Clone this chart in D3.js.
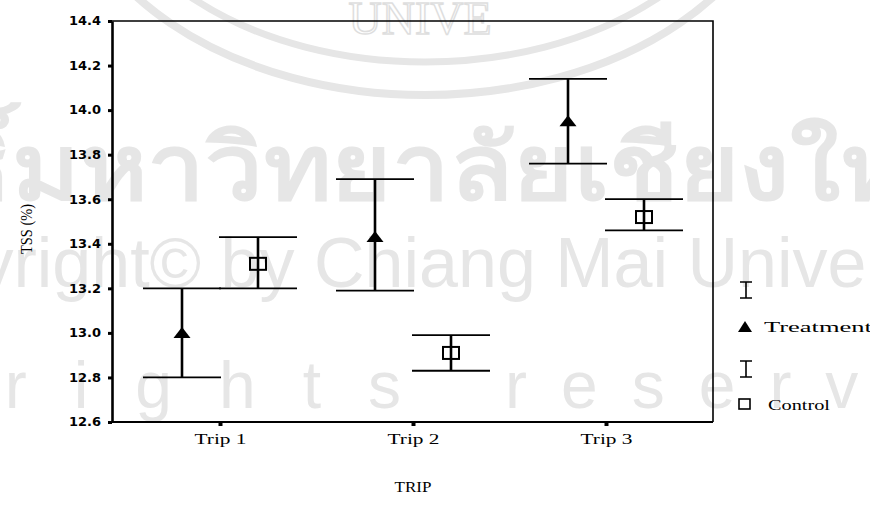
<!DOCTYPE html>
<html>
<head>
<meta charset="utf-8">
<script src="https://cdn.jsdelivr.net/npm/d3@7"></script>
<style>
  html, body { margin: 0; padding: 0; background: #fff; }
  svg { display: block; }
</style>
</head>
<body>
<div id="chart"></div>
<script>
// values (TSS %, mean with error bar limits)
const trips = ["Trip 1", "Trip 2", "Trip 3"];
const treatmentMean = [13.00, 13.43, 13.95];
const treatmentLow  = [12.80, 13.19, 13.76];
const treatmentHigh = [13.20, 13.69, 14.14];
const controlMean = [13.31, 12.91, 13.52];
const controlLow  = [13.20, 12.83, 13.46];
const controlHigh = [13.43, 12.99, 13.60];
const yTicks = [12.6, 12.8, 13.0, 13.2, 13.4, 13.6, 13.8, 14.0, 14.2, 14.4];
const seriesNames = ["Treatment", "Control"];

const width = 870, height = 511;
const frame = { left: 112, right: 713, top: 21, bottom: 422 };
const wmColor = "#e6e6e6";

const svg = d3.select("#chart").append("svg")
  .attr("xmlns", "http://www.w3.org/2000/svg")
  .attr("width", width)
  .attr("height", height);

// faint watermark of the scanned page
const wm = svg.append("g").attr("fill", wmColor);
wm.append("ellipse")
  .attr("cx", 425).attr("cy", -150).attr("rx", 360).attr("ry", 245)
  .attr("fill", "none").attr("stroke", wmColor).attr("stroke-width", 8);
wm.append("ellipse")
  .attr("cx", 425).attr("cy", -150).attr("rx", 325).attr("ry", 212)
  .attr("fill", "none").attr("stroke", wmColor).attr("stroke-width", 7);
wm.append("text")
  .attr("x", 420).attr("y", 34)
  .attr("text-anchor", "middle")
  .attr("font-family", "Liberation Serif, serif")
  .attr("font-size", 46)
  .attr("fill", "none").attr("stroke", "#dedede").attr("stroke-width", 1.5)
  .text("UNIVE");
wm.append("text")
  .attr("x", -315).attr("y", 199)
  .attr("font-family", "Noto Sans, sans-serif")
  .attr("font-weight", "bold")
  .attr("font-size", 90)
  .attr("textLength", 1290)
  .attr("lengthAdjust", "spacingAndGlyphs")
  .text("ลิขสิทธิ์มหาวิทยาลัยเชียงใหม่");
wm.append("text")
  .attr("x", -150).attr("y", 287)
  .attr("font-family", "Liberation Sans, Arial, sans-serif")
  .attr("font-size", 70)
  .text("Copyright© by Chiang Mai University");
wm.append("text")
  .attr("x", -275).attr("y", 408)
  .attr("font-family", "Liberation Sans, Arial, sans-serif")
  .attr("font-size", 66)
  .attr("letter-spacing", 47)
  .text("All rights");
wm.append("text")
  .attr("x", 505).attr("y", 408)
  .attr("font-family", "Liberation Sans, Arial, sans-serif")
  .attr("font-size", 66)
  .attr("letter-spacing", 34)
  .text("reserved");

const x = d3.scalePoint().domain(trips).range([220, 606]);
const y = d3.scaleLinear().domain([12.6, 14.4]).range([frame.bottom, frame.top]);

// frame: top and right edges
svg.append("path")
  .attr("d", `M${frame.left},${frame.top}H${frame.right}V${frame.bottom}`)
  .attr("fill", "none").attr("stroke", "#000").attr("stroke-width", 1.6);

// y axis
const yAxis = svg.append("g")
  .attr("transform", `translate(${frame.left},0)`)
  .call(d3.axisLeft(y).tickValues(yTicks).tickFormat(d3.format(".1f")).tickSize(4).tickSizeOuter(0).tickPadding(7));
yAxis.select(".domain").attr("stroke-width", 2.6);
yAxis.selectAll(".tick line").attr("stroke-width", 3);
yAxis.selectAll(".tick text")
  .attr("font-family", "DejaVu Sans, Verdana, sans-serif")
  .attr("font-weight", "bold")
  .attr("font-size", 12)
  .attr("fill", "#000")
  .attr("textLength", 32)
  .attr("lengthAdjust", "spacingAndGlyphs");

// x axis
const xAxis = svg.append("g")
  .attr("transform", `translate(0,${frame.bottom})`)
  .call(d3.axisBottom(x).tickSize(4).tickSizeOuter(0).tickPadding(8));
xAxis.select(".domain")
  .attr("d", `M${frame.left},0H${frame.right}`)
  .attr("stroke-width", 2.2);
xAxis.selectAll(".tick line").attr("stroke-width", 4);
xAxis.selectAll(".tick text")
  .attr("font-family", "Liberation Serif, Times New Roman, serif")
  .attr("font-size", 14.5)
  .attr("fill", "#000")
  .attr("textLength", 52)
  .attr("lengthAdjust", "spacingAndGlyphs");

// axis titles
svg.append("text")
  .attr("x", 413).attr("y", 492)
  .attr("text-anchor", "middle")
  .attr("font-family", "Liberation Serif, Times New Roman, serif")
  .attr("font-size", 15)
  .attr("textLength", 37)
  .attr("lengthAdjust", "spacingAndGlyphs")
  .text("TRIP");
svg.append("text")
  .attr("transform", "translate(32,229) rotate(-90)")
  .attr("text-anchor", "middle")
  .attr("font-family", "Liberation Serif, Times New Roman, serif")
  .attr("font-size", 16)
  .attr("textLength", 50)
  .attr("lengthAdjust", "spacingAndGlyphs")
  .text("TSS (%)");

// series
const series = [
  { name: seriesNames[0], shape: "triangle", offset: -38, mean: treatmentMean, low: treatmentLow, high: treatmentHigh },
  { name: seriesNames[1], shape: "square", offset: 38, mean: controlMean, low: controlLow, high: controlHigh }
];
const capHalf = 39;

series.forEach(s => {
  const pts = trips.map((t, i) => ({ trip: t, mean: s.mean[i], low: s.low[i], high: s.high[i] }));
  const g = svg.append("g").attr("class", "series");
  const cx = d => x(d.trip) + s.offset;

  g.selectAll(".whisker").data(pts).enter().append("line")
    .attr("x1", cx).attr("x2", cx)
    .attr("y1", d => y(d.low)).attr("y2", d => y(d.high))
    .attr("stroke", "#000").attr("stroke-width", 2.6);
  g.selectAll(".cap-hi").data(pts).enter().append("line")
    .attr("x1", d => cx(d) - capHalf).attr("x2", d => cx(d) + capHalf)
    .attr("y1", d => y(d.high)).attr("y2", d => y(d.high))
    .attr("stroke", "#000").attr("stroke-width", 1.8);
  g.selectAll(".cap-lo").data(pts).enter().append("line")
    .attr("x1", d => cx(d) - capHalf).attr("x2", d => cx(d) + capHalf)
    .attr("y1", d => y(d.low)).attr("y2", d => y(d.low))
    .attr("stroke", "#000").attr("stroke-width", 1.8);

  if (s.shape === "triangle") {
    g.selectAll(".mark").data(pts).enter().append("path")
      .attr("d", d => `M${cx(d)},${y(d.mean) - 6}L${cx(d) + 8.5},${y(d.mean) + 5}L${cx(d) - 8.5},${y(d.mean) + 5}Z`)
      .attr("fill", "#000");
  } else {
    g.selectAll(".mark").data(pts).enter().append("rect")
      .attr("x", d => cx(d) - 8).attr("y", d => y(d.mean) - 6)
      .attr("width", 16).attr("height", 12)
      .attr("fill", "none").attr("stroke", "#000").attr("stroke-width", 2);
  }
});

// legend
const legend = svg.append("g")
  .attr("font-family", "Liberation Serif, Times New Roman, serif")
  .attr("font-size", 14.5);
const legendRows = [
  { bar: [282, 298], mark: 327, textY: 332, textX: 764, len: 108 },
  { bar: [361, 377], mark: 404, textY: 410, textX: 768, len: 62 }
];
legendRows.forEach((r, i) => {
  const lx = 746;
  legend.append("path")
    .attr("d", `M${lx - 6},${r.bar[0]}H${lx + 6}M${lx},${r.bar[0]}V${r.bar[1]}M${lx - 6},${r.bar[1]}H${lx + 6}`)
    .attr("fill", "none").attr("stroke", "#000").attr("stroke-width", 1.6);
  if (series[i].shape === "triangle") {
    legend.append("path")
      .attr("d", `M${lx - 1},${r.mark - 6}L${lx + 6},${r.mark + 5}L${lx - 8},${r.mark + 5}Z`)
      .attr("fill", "#000");
  } else {
    legend.append("rect")
      .attr("x", lx - 7).attr("y", r.mark - 5)
      .attr("width", 11).attr("height", 10)
      .attr("fill", "none").attr("stroke", "#000").attr("stroke-width", 1.6);
  }
  legend.append("text")
    .attr("x", r.textX).attr("y", r.textY)
    .attr("textLength", r.len)
    .attr("lengthAdjust", "spacingAndGlyphs")
    .text(series[i].name);
});
</script>
</body>
</html>
